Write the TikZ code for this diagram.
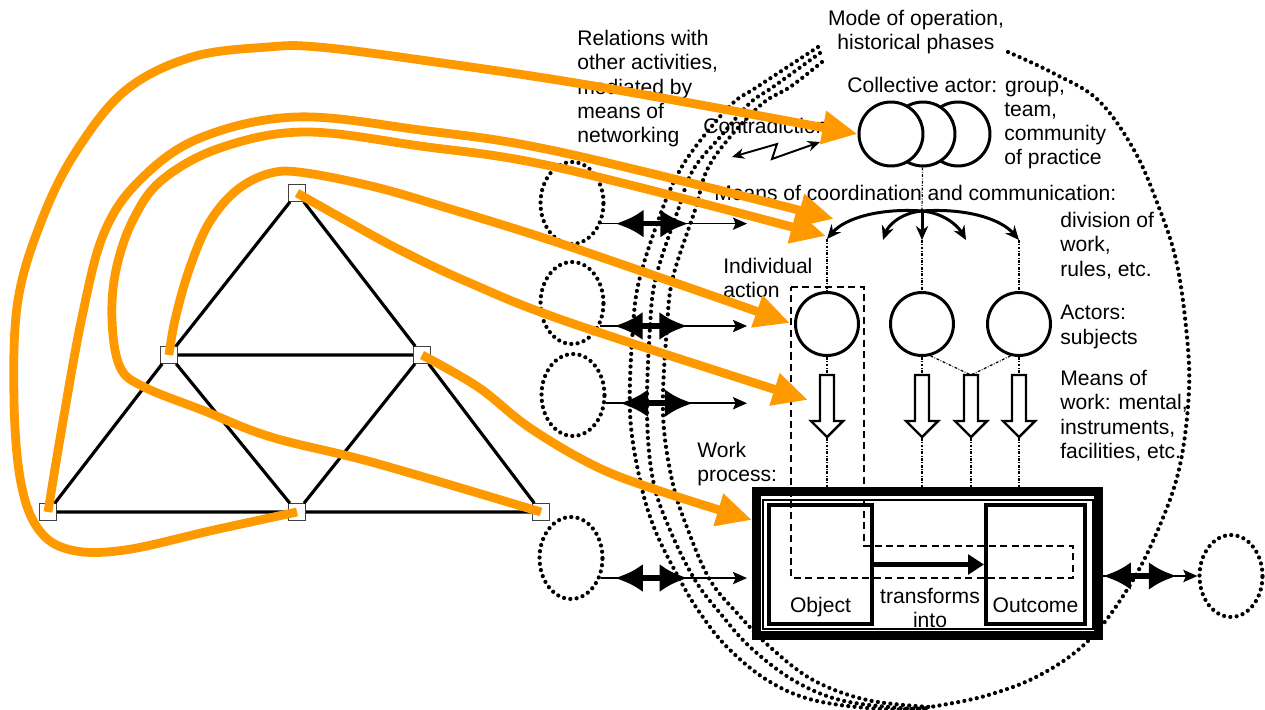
\documentclass[tikz,border=0pt]{standalone}
\usepackage{fontspec}
\setmainfont{Liberation Sans}
\usetikzlibrary{arrows.meta,shapes.geometric}
\definecolor{hlorange}{RGB}{255,153,0}

\begin{document}
\begin{tikzpicture}[x=0.02cm,y=-0.02cm,
    font=\fontsize{12}{13.8}\selectfont,
    vertex/.style={draw=black!75,fill=white,thin,minimum size=0.34cm,inner sep=0pt},
    edge/.style={line width=1.8pt},
    phase/.style={line width=2.4pt,dash pattern=on 0pt off 3.6pt,line cap=round},
    other/.style={ellipse,draw,phase,minimum width=1.26cm,minimum height=1.64cm},
    actor/.style={circle,draw,fill=white,line width=1.7pt,minimum size=1.26cm,inner sep=0pt},
    link/.style={line width=0.7pt,dash pattern=on 1.6pt off 0.9pt on 0.4pt off 0.9pt},
    thinarr/.style={line width=0.9pt,-{Stealth[length=8pt,width=7pt,inset=1.5pt]}},
    fat/.style={line width=3.2pt,{Latex[length=16pt,width=16pt]}-{Latex[length=16pt,width=16pt]}},
    coord/.style={line width=1.7pt,-{Stealth[length=8pt,width=7pt]}},
    box/.style={draw,inner sep=0pt},
    txt/.style={anchor=north west,align=left,inner sep=0pt},
    hl/.style={hlorange,line width=5pt,line join=round,-{Triangle[length=20pt,width=18pt]}}]

\useasboundingbox (0,0) rectangle (1265,710);

% activity triangle
\node[vertex] (T)  at (297,193) {};
\node[vertex] (ML) at (169,355) {};
\node[vertex] (MR) at (422,355) {};
\node[vertex] (BL) at (48,512)  {};
\node[vertex] (BM) at (297,512) {};
\node[vertex] (BR) at (541,512) {};
\draw[edge] (BL) -- (ML) -- (T) -- (MR) -- (BR) -- (BM) -- (BL);
\draw[edge] (ML) -- (MR) (ML) -- (BM) -- (MR);

% historical phases round the activity
\draw[phase] plot[smooth,tension=0.6] coordinates {(818,47) (757,87) (733,103) (703,137) (680,170) (662,210) (640,277) (633,327) (630,413) (640,480) (655,530) (680,580) (700,613) (727,647) (767,680) (813,700) (880,709) (930,708)};
\draw[phase] plot[smooth,tension=0.6] coordinates {(820,53) (773,87) (750,103) (720,137) (693,170) (678,210) (656,277) (650,327) (647,413) (653,480) (670,530) (695,580) (720,613) (750,647) (793,680) (840,700) (900,708) (930,708)};
\draw[phase] plot[smooth,tension=0.6] coordinates {(822,62) (790,87) (763,103) (730,137) (707,170) (695,210) (673,277) (667,327) (663,413) (672,480) (688,530) (710,580) (737,613) (770,647) (813,680) (867,700) (930,707)};
\draw[phase] plot[smooth,tension=0.6] coordinates {(1008,52) (1053,73) (1098,100) (1134,150) (1158,205) (1176,260) (1186,327) (1189,390) (1180,465) (1160,525) (1130,585) (1089,640) (1040,675) (985,696) (930,707)};

% other activities
\foreach \n/\x/\y in {1/572/203,2/572/303,3/573/395,4/571/558}
  \node[other] (e\n) at (\x,\y) {};
\node[other] (e5) at (1231,576) {};

% work process
\node[box,fill=white,line width=5pt,minimum width=6.84cm,minimum height=2.88cm] (wp) at (927.5,563.5) {};
\node[box,line width=0.9pt,minimum width=6.6cm,minimum height=2.58cm] (wpin) at (928,564.5) {};
\node[box,line width=2.3pt,minimum width=2.06cm,minimum height=2.38cm] (obj) at (820.5,564.5) {};
\node[box,line width=2.3pt,minimum width=1.98cm,minimum height=2.38cm] (out) at (1035.5,564.5) {};
\node[anchor=base] (objtxt) at ([yshift=0.28cm]obj.south) {Object};
\node[anchor=base] (outtxt) at ([yshift=0.28cm]out.south) {Outcome};
\node[align=center,anchor=north,inner sep=0pt] (trans) at (930,588) {transforms\\into};
\draw[line width=3pt,-{Triangle[length=9pt,width=11pt]}] (obj) -- (out);

\foreach \n/\a/\y in {1/-35/223,2/-39/325,3/-14/403,4/-34/577}{
  \coordinate (t\n) at (747,\y);
  \draw[thinarr] (e\n.\a) -- (e\n.\a -| t\n);
  \draw[fat] ([xshift=0.28cm]e\n.\a) -- ++(73,0);
}
\coordinate (r0) at (wp.east |- e5.west);
\draw[thinarr] (r0) -- (e5.west);
\draw[fat] (r0) -- ++(74,0);

% collective actor
\node[actor,minimum size=1.28cm] (ca3) at (958,134) {};
\node[actor,minimum size=1.28cm] (ca2) at (923,134) {};
\node[actor,minimum size=1.28cm] (ca1) at (891,134) {};

% actors
\node[actor] (a1) at (827,324) {};
\node[actor] (a2) at (922,324) {};
\node[actor] (a3) at (1019,324) {};

% labels
\node[txt] (rel) at (577,30) {Relations with\\other activities,\\mediated by\\means of\\networking};
\node[align=center,anchor=north,inner sep=0pt] (mode) at (916,10) {Mode of operation,\\historical phases};
\node[txt] (cag) at (847,77) {Collective actor: group,};
\node[txt,font=\fontsize{12}{13.4}\selectfont] (cat) at (1004,103) {team,\\community\\of practice};
\node[txt] (contra) at (703,118) {Contradictions};
\node[txt] (coordtxt) at (714,185) {Means of coordination and communication:};
\node[txt] (divtxt) at (1060,212) {division of\\work,\\rules, etc.};
\node[txt] (indtxt) at (723,258) {Individual\\action};
\node[txt] (acttxt) at (1060,305) {Actors:\\subjects};
\node[txt] (mwtxt) at (1060,370) {Means of\\work: mental,\\instruments,\\facilities, etc.};
\node[txt] (wptxt) at (697,442) {Work\\process:};

% contradictions
\coordinate (ctrA) at (732,157);
\coordinate (ctrB) at (820,142);
\draw[line width=1.1pt,{Stealth[length=7pt,width=6pt]}-{Stealth[length=7pt,width=6pt]}] (ctrA) -- (777,144) -- (772,159) -- (ctrB);

% coordination and communication
\coordinate (hub) at (922,211);
\coordinate (c1) at (827,239);
\coordinate (c2) at (883,240);
\coordinate (c3) at (922,240);
\coordinate (c4) at (966,240);
\coordinate (c5) at (1019,240);
\draw[link] (ca2) -- (hub);
\draw[coord] (hub) .. controls (880,208) and (845,218) .. (c1);
\draw[coord] (hub) .. controls (900,213) and (888,226) .. (c2);
\draw[coord] (hub) -- (c3);
\draw[coord] (hub) .. controls (944,213) and (958,226) .. (c4);
\draw[coord] (hub) .. controls (964,208) and (1000,218) .. (c5);
\draw[link] (c1) -- (a1);
\draw[link] (c3) -- (a2);
\draw[link] (c5) -- (a3);

% means of work
\foreach \n/\x in {1/827,2/922,3/971,4/1019}{
  \draw[fill=white,line width=1.4pt,line join=miter] ({\x-7},375) -- ({\x+7},375) -- ({\x+7},421) -- ({\x+16},421) -- (\x,437) -- ({\x-16},421) -- ({\x-7},421) -- cycle;
  \coordinate (m\n) at (\x,375);
  \coordinate (mt\n) at (\x,438);
  \draw[link] (mt\n) -- (mt\n |- wp.north);
}
\draw[link] (a1) -- (m1);
\draw[link] (a2) -- (m2);
\draw[link] (a2.-75) -- (m3);
\draw[link] (a3.-105) -- (m3);
\draw[link] (a3) -- (m4);

% individual action
\draw[line width=1.3pt,dash pattern=on 4pt off 2.5pt] (791,287) -- (864,287) -- (864,546) -- (1073,546) -- (1073,578) -- (791,578) -- cycle;

% links from the triangle
\coordinate (tipB) at (834,219);
\coordinate (tipC) at (826,236);
\coordinate (tipD) at (790,323);
\coordinate (tipE) at (808,400);
\coordinate (tipF) at (752,520);
\draw[hl] plot[smooth,tension=0.6] coordinates {(BM.center) (214,530) (125,550) (71,550) (39,530) (21,483) (14,400) (18,300) (43,217) (77,150) (126,90) (192,57) (268,47) (318,47) (421,60) (600,87) (ca1.west)};
\draw[hl] plot[smooth,tension=0.6] coordinates {(BL.center) (61,433) (82,317) (104,233) (140,180) (200,138) (296,117) (420,130) (560,152) (tipB)};
\draw[hl] plot[smooth,tension=0.6] coordinates {(BR.center) (375,463) (271,437) (202,410) (144,387) (120,367) (112,320) (116,270) (133,220) (162,180) (220,148) (304,132) (420,146) (560,168) (tipC)};
\draw[hl] plot[smooth,tension=0.6] coordinates {(ML.center) (175,320) (189,270) (209,223) (237,190) (271,173) (306,173) (375,187) (444,207) (571,247) (tipD)};
\draw[hl] plot[smooth,tension=0.6] coordinates {(T.center) (345,220) (400,250) (470,283) (571,323) (tipE)};
\draw[hl] plot[smooth,tension=0.6] coordinates {(MR.center) (478,387) (530,428) (597,467) (663,492) (tipF)};
\end{tikzpicture}
\end{document}
